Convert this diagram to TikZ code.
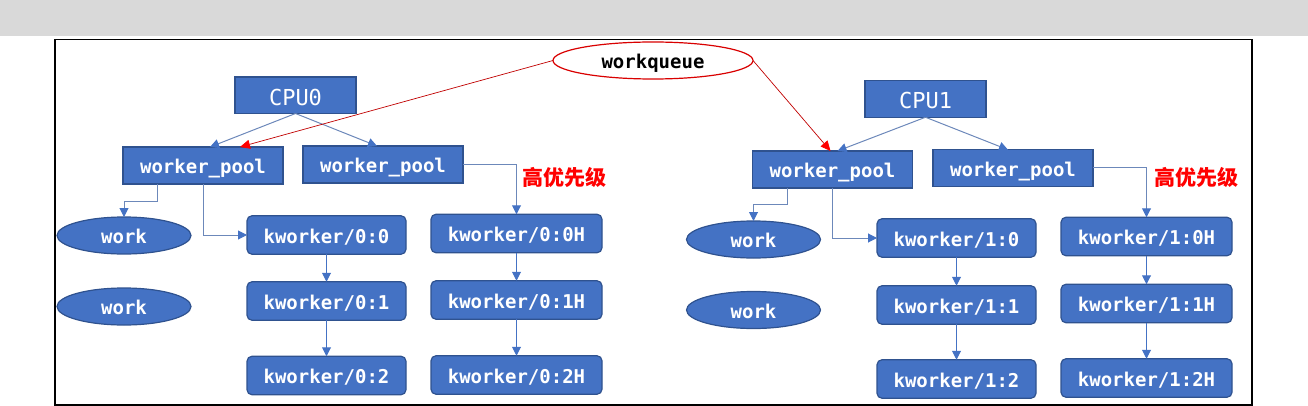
\documentclass[tikz,border=0pt]{standalone}
\usepackage{fontspec}
\setmainfont{DejaVu Sans}
\newfontfamily\monob{DejaVu Sans Mono}
\newfontfamily\cjk{Noto Sans CJK SC}
\usetikzlibrary{arrows.meta,shapes.geometric,calc}
\definecolor{boxfill}{HTML}{4472C4}
\definecolor{boxline}{HTML}{2F528F}
\definecolor{connA}{HTML}{6C88BA}
\definecolor{connB}{HTML}{4472C4}
\definecolor{redline}{HTML}{C00000}
\definecolor{bandgrey}{HTML}{D9D9D9}
\begin{document}
\begin{tikzpicture}[x=1pt,y=-1pt,
  every node/.style={inner sep=0pt, outer sep=0pt},
  basebox/.style={draw=boxline, fill=boxfill, line width=1.2pt, text=white,
    text height=16.2pt, text depth=0pt},
  cpubox/.style={basebox, minimum width=121pt, minimum height=36.5pt, text height=20pt,
    font=\monob\fontsize{22}{26}\selectfont},
  poolbox/.style={basebox, minimum width=160pt, minimum height=37pt,
    font=\monob\bfseries\fontsize{19}{22}\selectfont},
  kwbox/.style={basebox, rounded corners=5pt, minimum width=159pt, minimum height=38.5pt,
    font=\monob\bfseries\fontsize{19}{22}\selectfont},
  kwhbox/.style={kwbox, minimum width=171pt},
  workell/.style={basebox, ellipse, minimum width=134pt, minimum height=37pt,
    font=\monob\bfseries\fontsize{19}{22}\selectfont},
  wqell/.style={ellipse, draw=red!85!black, fill=white, line width=1.2pt,
    minimum width=200pt, minimum height=37pt, text height=16pt, text depth=0pt,
    font=\monob\bfseries\fontsize{19}{22}\selectfont},
  conn/.style={draw=connA, line width=1pt, -{Triangle[length=9pt,width=9pt,color=connB]}},
  connv/.style={draw=connB, line width=1pt, -{Triangle[length=9pt,width=9pt,color=connB]}},
  redarr/.style={draw=redline, line width=0.7pt, -{Triangle[length=10pt,width=9pt,color=red]}},
  prio/.style={text=red, anchor=west, font=\cjk\bfseries\fontsize{21}{24}\selectfont}
]
\useasboundingbox (0,0) rectangle (1308,406);
\fill[bandgrey] (0,0) rectangle (1308,36);
\draw[line width=1.3pt] (55,39.5) rectangle (1252,405);

% workqueue
\node[wqell] (wq) at (653,60.5) {workqueue};

% CPU0 side
\node[cpubox] (cpu0) at (295.5,95.25) {CPU0};
\node[poolbox] (wp00) at (203,165.5) {worker\_pool};
\node[poolbox] (wp01) at (383,164.5) {worker\_pool};
\node[workell] (work00) at (124,235.5) {work};
\node[workell] (work01) at (124,306.5) {work};
\node[kwbox] (kw00) at (326.5,235) {kworker/0:0};
\node[kwbox] (kw01) at (326.5,301) {kworker/0:1};
\node[kwbox] (kw02) at (326.5,375.5) {kworker/0:2};
\node[kwhbox] (kw00h) at (516.5,233.5) {kworker/0:0H};
\node[kwhbox] (kw01h) at (516.5,300) {kworker/0:1H};
\node[kwhbox] (kw02h) at (516.5,375) {kworker/0:2H};
\node[prio] (pr0) at (522,177.5) {高优先级};

% CPU1 side
\node[cpubox] (cpu1) at (925.5,99) {CPU1};
\node[poolbox] (wp10) at (832.5,169.5) {worker\_pool};
\node[poolbox, minimum height=36.5pt] (wp11) at (1013,168) {worker\_pool};
\node[workell] (work10) at (753.5,239.5) {work};
\node[workell] (work11) at (753.5,310) {work};
\node[kwbox] (kw10) at (956.5,238) {kworker/1:0};
\node[kwbox] (kw11) at (956.5,305) {kworker/1:1};
\node[kwbox] (kw12) at (956.5,379) {kworker/1:2};
\node[kwhbox] (kw10h) at (1146.5,236.5) {kworker/1:0H};
\node[kwhbox] (kw11h) at (1146.5,303.5) {kworker/1:1H};
\node[kwhbox] (kw12h) at (1146.5,378) {kworker/1:2H};
\node[prio] (pr1) at (1154,177.5) {高优先级};

% CPU -> worker_pool
\draw[conn] (cpu0.south) -- ([xshift=7pt]wp00.north);
\draw[conn] (cpu0.south) -- ([xshift=-6pt]wp01.north);
\draw[conn] (cpu1.south) -- ([xshift=5pt]wp10.north);
\draw[conn] (cpu1.south) -- ([xshift=-5pt]wp11.north);

% workqueue -> worker_pool
\draw[redarr] (wq.west) -- ([xshift=37pt]wp00.north);
\draw[redarr] (wq.east) -- ([xshift=-2pt]wp10.north);

% worker_pool -> work / kworker (CPU0)
\draw[conn] ([xshift=-46pt]wp00.south) -- ++(0,17) -| (work00.north);
\draw[conn] (wp00.south) |- (kw00.west);
\draw[conn] (wp01.east) -| (kw00h.north);
\draw[connv] (kw00.south) -- (kw01.north);
\draw[connv] (kw01.south) -- (kw02.north);
\draw[connv] (kw00h.south) -- (kw01h.north);
\draw[connv] (kw01h.south) -- (kw02h.north);

% worker_pool -> work / kworker (CPU1)
\draw[conn] ([xshift=-45.5pt]wp10.south) -- ++(0,16) -| (work10.north);
\draw[conn] (wp10.south) |- (kw10.west);
\draw[conn] (wp11.east) -| (kw10h.north);
\draw[connv] (kw10.south) -- (kw11.north);
\draw[connv] (kw11.south) -- (kw12.north);
\draw[connv] (kw10h.south) -- (kw11h.north);
\draw[connv] (kw11h.south) -- (kw12h.north);
\end{tikzpicture}
\end{document}
